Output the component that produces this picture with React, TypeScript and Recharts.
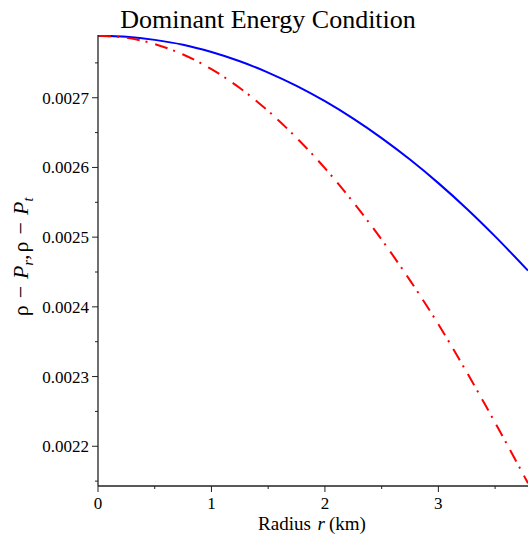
import React from 'react';
import { LineChart, Line, XAxis, YAxis, Customized } from 'recharts';

const radius = [0, 0.25, 0.5, 0.75, 1, 1.25, 1.5, 1.75, 2, 2.25, 2.5, 2.75, 3, 3.25, 3.5, 3.79];
const rhoMinusPr = [
  0.002789, 0.0027875, 0.002783, 0.002776, 0.0027655, 0.0027523, 0.0027361, 0.002717,
  0.002695, 0.00267, 0.0026421, 0.0026113, 0.0025775, 0.0025408, 0.0025011, 0.002452,
];
const rhoMinusPt = [
  0.002789, 0.002786, 0.002777, 0.002762, 0.002741, 0.002714, 0.002681, 0.0026425,
  0.002599, 0.00255, 0.0024965, 0.002438, 0.002375, 0.0023063, 0.002234, 0.002147,
];
const xTicks = [0, 0.5, 1, 1.5, 2, 2.5, 3, 3.5];
const yTicks = [0.00215, 0.0022, 0.00225, 0.0023, 0.00235, 0.0024, 0.00245, 0.0025, 0.00255, 0.0026, 0.00265, 0.0027, 0.00275];
const xDomain = [0, 3.79];
const yDomain = [0.002143, 0.00279];

const data = radius.map((r, i) => ({ r, pr: rhoMinusPr[i], pt: rhoMinusPt[i] }));

const FONT = '"Liberation Serif", "Times New Roman", serif';
const AXIS = '#222';

const XTick = (props: any) => {
  const { x, y, payload } = props;
  const v = payload.value;
  const major = Math.abs(v - Math.round(v)) < 1e-6;
  return (
    <g>
      <line x1={x} x2={x} y1={y} y2={y + (major ? 6 : 3)} stroke={AXIS} strokeWidth={1} />
      {major && (
        <text x={x} y={y + 23} textAnchor="middle" fontSize={17} fontFamily={FONT} fill="#000">
          {String(v)}
        </text>
      )}
    </g>
  );
};

const YTick = (props: any) => {
  const { x, y, payload } = props;
  const v = payload.value;
  const major = Math.abs(v * 10000 - Math.round(v * 10000)) < 1e-6;
  return (
    <g>
      <line x1={x - (major ? 6 : 3)} x2={x} y1={y} y2={y} stroke={AXIS} strokeWidth={1} />
      {major && (
        <text x={x - 9} y={y + 6} textAnchor="end" fontSize={17} fontFamily={FONT} fill="#000">
          {v.toFixed(4)}
        </text>
      )}
    </g>
  );
};

const Titles = () => (
  <g fontFamily={FONT} fill="#000">
    <text x={268} y={28} textAnchor="middle" fontSize={26}>
      Dominant Energy Condition
    </text>
    <text x={312} y={530} textAnchor="middle" fontSize={19}>
      Radius <tspan fontStyle="italic" dx={2}>r</tspan><tspan dx={4}>(km)</tspan>
    </text>
    <text x={28} y={257} textAnchor="middle" fontSize={22} transform="rotate(-90, 28, 257)">
      ρ<tspan dx={7}>−</tspan>
      <tspan fontStyle="italic" dx={7}>P</tspan>
      <tspan fontStyle="italic" fontSize={14} dy={5}>r</tspan>
      <tspan dy={-5}>,</tspan>
      <tspan dx={2}>ρ</tspan>
      <tspan dx={7}>−</tspan>
      <tspan fontStyle="italic" dx={7}>P</tspan>
      <tspan fontStyle="italic" fontSize={14} dy={5}>t</tspan>
    </text>
  </g>
);

export default function App() {
  return (
    <div style={{ position: 'absolute', left: 0, top: 0 }}>
      <LineChart width={528} height={537} data={data} margin={{ top: 35, right: 0, bottom: 0, left: 0 }}>
        <XAxis
          dataKey="r"
          type="number"
          domain={xDomain}
          ticks={xTicks}
          allowDataOverflow
          height={51}
          tickSize={0}
          tickMargin={0}
          tickLine={false}
          tick={<XTick />}
          axisLine={{ stroke: AXIS, strokeWidth: 1.3 }}
          interval={0}
        />
        <YAxis
          type="number"
          domain={yDomain}
          ticks={yTicks}
          allowDataOverflow
          width={98}
          tickSize={0}
          tickMargin={0}
          tickLine={false}
          tick={<YTick />}
          axisLine={{ stroke: AXIS, strokeWidth: 1.3 }}
          interval={0}
        />
        <Line dataKey="pr" type="monotone" stroke="#0000ff" strokeWidth={2} dot={false} isAnimationActive={false} />
        <Line dataKey="pt" type="monotone" stroke="#ff0000" strokeWidth={2} strokeDasharray="13 6 2 8" dot={false} isAnimationActive={false} />
        <Customized component={Titles} />
      </LineChart>
    </div>
  );
}
